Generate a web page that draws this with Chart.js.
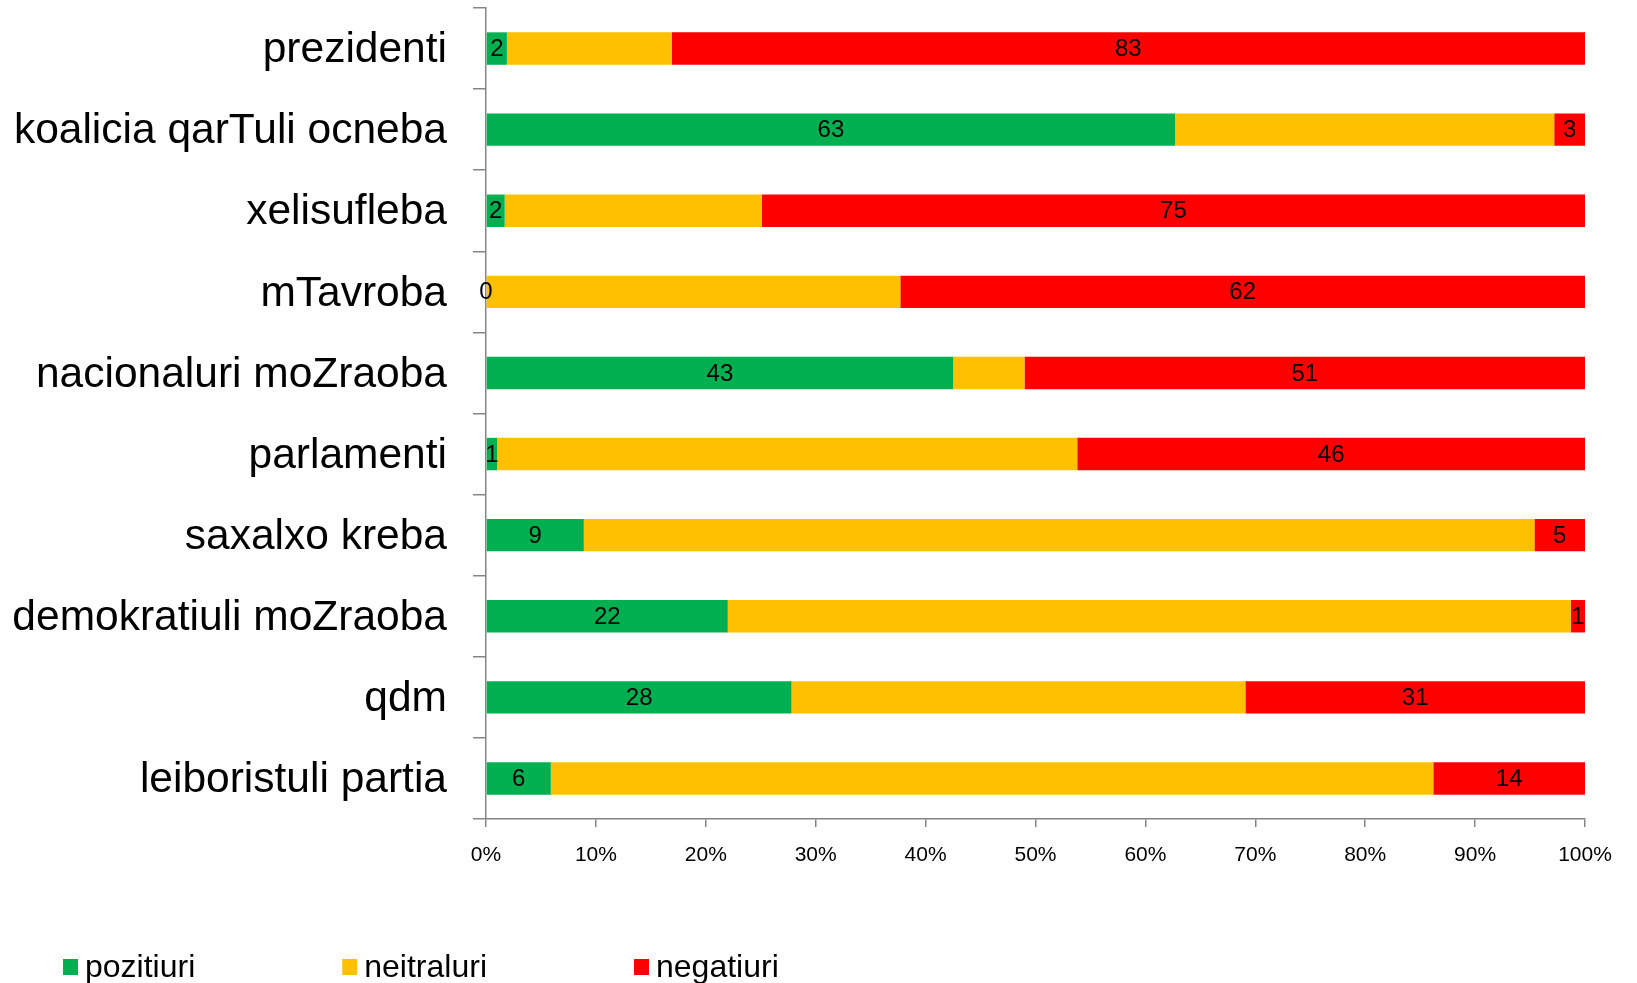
<!DOCTYPE html>
<html>
<head>
<meta charset="utf-8">
<script src="https://cdn.jsdelivr.net/npm/chart.js@4"></script>
<style>
  html, body { margin: 0; padding: 0; background: #fff; }
  #wrap { width: 1637px; height: 983px; }
</style>
</head>
<body>
<div id="wrap"><canvas id="opinionChart" width="1637" height="983"></canvas></div>
<script>
// categories, top to bottom
const categories = [
  "prezidenti",
  "koalicia qarTuli ocneba",
  "xelisufleba",
  "mTavroba",
  "nacionaluri moZraoba",
  "parlamenti",
  "saxalxo kreba",
  "demokratiuli moZraoba",
  "qdm",
  "leiboristuli partia"
];

// shares in percent
const positive = [1.9, 62.7, 1.7, 0, 42.5, 1.0, 8.9, 22.0, 27.8, 5.9];
const neutral  = [15.0, 34.5, 23.4, 37.7, 6.5, 52.8, 86.5, 76.7, 41.3, 80.3];
const negative = [83.1, 2.8, 74.9, 62.3, 51.0, 46.2, 4.6, 1.3, 30.9, 13.8];

const seriesNames = ["pozitiuri", "neitraluri", "negatiuri"];
const xTicks = [0, 10, 20, 30, 40, 50, 60, 70, 80, 90, 100];

const axisGray = "#868686";
const fontFamily = "'Liberation Sans', Arial, sans-serif";

// value labels in the green and red segments
const barLabels = {
  id: "barLabels",
  afterDatasetsDraw(chart) {
    const ctx = chart.ctx;
    ctx.save();
    ctx.font = "24px " + fontFamily;
    ctx.fillStyle = "#000";
    ctx.textAlign = "center";
    ctx.textBaseline = "middle";
    chart.data.datasets.forEach((ds, i) => {
      if (!ds.showLabels) return;
      chart.getDatasetMeta(i).data.forEach((bar, j) => {
        const x = (bar.x + bar.base) / 2;
        ctx.fillText(String(Math.round(ds.data[j])), x, bar.y + 1);
      });
    });
    ctx.restore();
  }
};

// legend row under the axis
const bottomLegend = {
  id: "bottomLegend",
  afterDraw(chart) {
    const ctx = chart.ctx;
    ctx.save();
    ctx.font = "32px " + fontFamily;
    ctx.textBaseline = "alphabetic";
    let x = 63;
    chart.data.datasets.forEach(ds => {
      ctx.fillStyle = ds.backgroundColor;
      ctx.fillRect(x, 959, 15, 16);
      ctx.fillStyle = "#000";
      ctx.fillText(ds.label, x + 22, 977);
      x += 22 + ctx.measureText(ds.label).width + 147;
    });
    ctx.restore();
  }
};

new Chart(document.getElementById("opinionChart"), {
  type: "bar",
  data: {
    labels: categories,
    datasets: [
      { label: seriesNames[0], data: positive, backgroundColor: "#00B050", showLabels: true },
      { label: seriesNames[1], data: neutral, backgroundColor: "#FFC000", showLabels: false },
      { label: seriesNames[2], data: negative, backgroundColor: "#FF0000", showLabels: true }
    ]
  },
  options: {
    indexAxis: "y",
    responsive: false,
    animation: false,
    layout: { padding: { top: 8, right: 52, bottom: 112, left: 0 } },
    datasets: { bar: { barPercentage: 0.4, categoryPercentage: 1.0 } },
    plugins: {
      legend: { display: false },
      tooltip: { enabled: false }
    },
    scales: {
      x: {
        stacked: true,
        min: 0,
        max: 100,
        afterBuildTicks(scale) { scale.ticks = xTicks.map(v => ({ value: v })); },
        afterFit(scale) { scale.height = 52; scale.paddingLeft = 0; scale.paddingRight = 0; },
        grid: { drawOnChartArea: false, drawTicks: true, tickLength: 8, color: axisGray, lineWidth: 1.5 },
        border: { display: true, color: axisGray, width: 1.5 },
        ticks: {
          padding: 16,
          color: "#000",
          font: { family: fontFamily, size: 21 },
          maxRotation: 0,
          callback: v => v + "%"
        }
      },
      y: {
        stacked: true,
        afterFit(scale) { scale.width = 486; scale.paddingTop = 0; scale.paddingBottom = 0; },
        grid: { offset: true, drawOnChartArea: false, drawTicks: true, tickLength: 13, color: axisGray, lineWidth: 1.5 },
        border: { display: true, color: axisGray, width: 1.5 },
        ticks: {
          padding: 26,
          labelOffset: 2,
          color: "#000",
          font: { family: fontFamily, size: 42.5 }
        }
      }
    }
  },
  plugins: [barLabels, bottomLegend]
});
</script>
</body>
</html>
